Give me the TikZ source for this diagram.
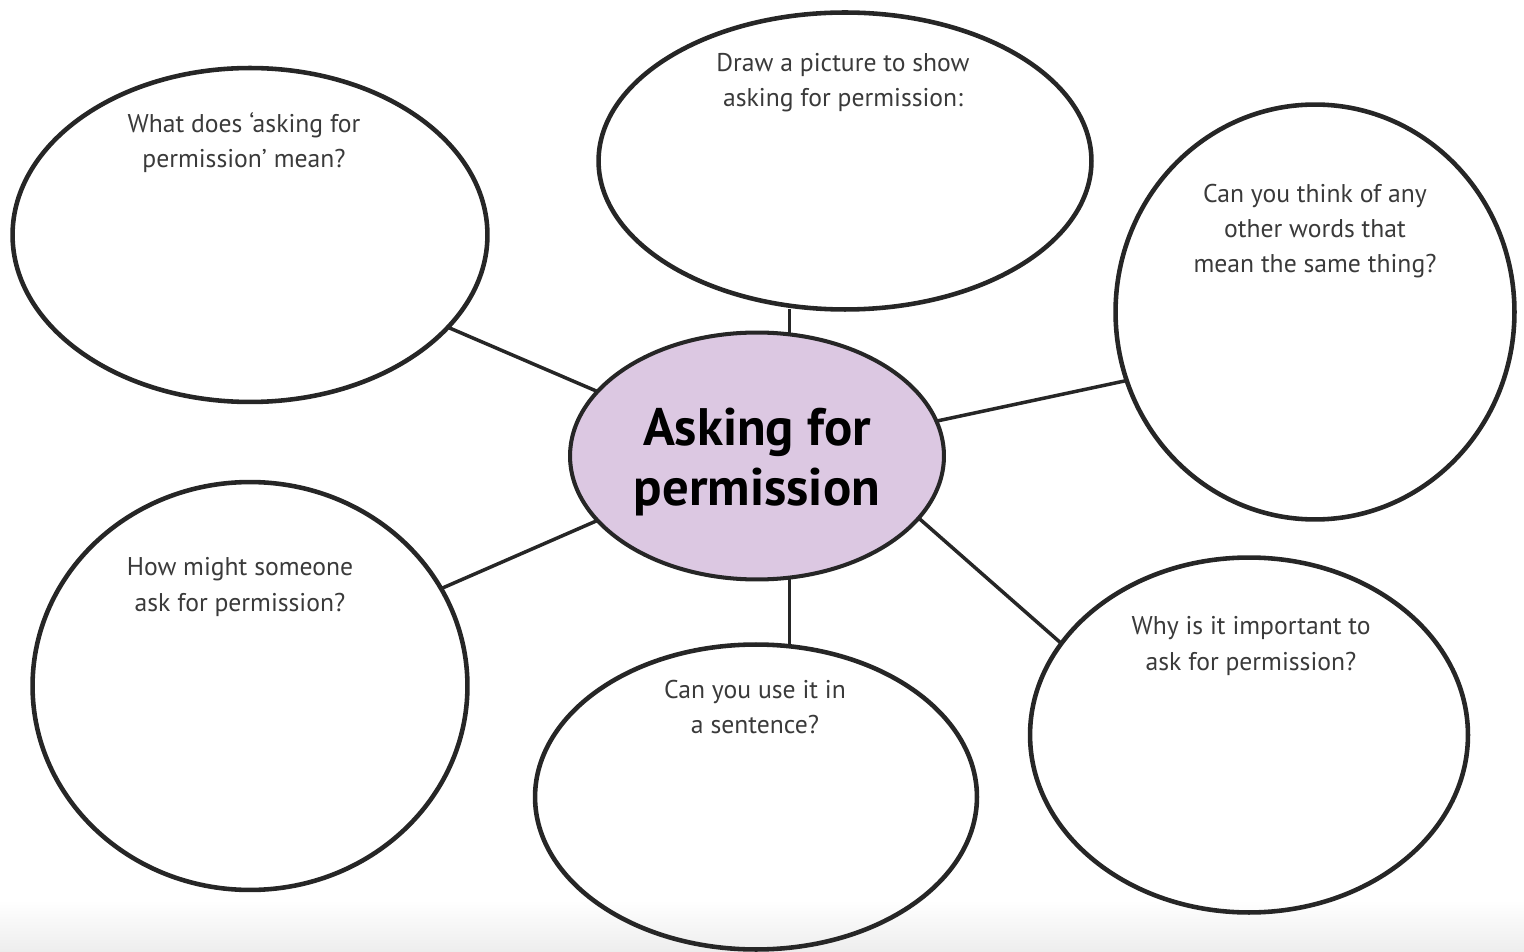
\documentclass[tikz,border=0pt]{standalone}
\usepackage{fontspec}
\setmainfont{PT Sans}
\usetikzlibrary{shapes.geometric}
\definecolor{hubFill}{HTML}{DCC8E2}
\definecolor{rimDraw}{HTML}{262626}
\definecolor{qText}{HTML}{3A3A3A}

\begin{document}
\begin{tikzpicture}[
  x=0.02cm,y=-0.02cm,
  bub/.style={ellipse,draw=rimDraw,line width=2.6pt,inner sep=0pt,outer sep=0pt},
  hub/.style={bub,fill=hubFill,line width=2.3pt},
  ed/.style={draw=rimDraw,line width=2pt},
  qtxt/.style={align=center,text=qText,font=\fontsize{14.6}{20}\selectfont},
  htxt/.style={align=center,font=\fontsize{30}{34.5}\selectfont\bfseries},
]
\useasboundingbox (0,0) rectangle (1524,952);
\shade[top color=white,bottom color=black!7] (0,900) rectangle (1524,952);

% ---- central topic ------------------------------------------------------
\node[hub,minimum width=7.48cm,minimum height=4.94cm] (C) at (757,456) {};
\node[htxt] (tC) at (757,462) {Asking for\\permission};

% ---- question bubbles ---------------------------------------------------
\node[bub,minimum width=9.5cm, minimum height=6.68cm] (Q1) at (250,235) {};
\node[bub,minimum width=9.86cm,minimum height=5.94cm] (Q2) at (845,161) {};
\node[bub,minimum width=7.98cm,minimum height=8.3cm]  (Q3) at (1315,312) {};
\node[bub,minimum width=8.7cm, minimum height=8.16cm] (Q4) at (250,686) {};
\node[bub,minimum width=8.84cm,minimum height=6.1cm]  (Q5) at (756,797) {};
\node[bub,minimum width=8.76cm,minimum height=7.1cm]  (Q6) at (1249,735) {};

% question texts near the top of each bubble
\node[qtxt] (t1) at (244,143)  {What does `asking for\\permission' mean?};
\node[qtxt] (t2) at (843,83)   {Draw a picture to show\\asking for permission:};
\node[qtxt] (t3) at (1315,231) {Can you think of any\\other words that\\mean the same thing?};
\node[qtxt] (t4) at (240,587)  {How might someone\\ask for permission?};
\node[qtxt] (t5) at (755,707)  {Can you use it in\\a sentence?};
\node[qtxt] (t6) at (1251,646) {Why is it important to\\ask for permission?};

% ---- spokes -------------------------------------------------------------
\draw[ed] (C.158) -- (Q1.335);
\draw[ed] (C.75) -- (C.75 |- Q2.south);
\draw[ed] (C.11) -- (Q3.200);
\draw[ed] (C.202) -- (Q4.27);
\draw[ed] (C.285) -- (C.285 |- Q5.north);
\draw[ed] (C.-21) -- (Q6.154);

\end{tikzpicture}
\end{document}
